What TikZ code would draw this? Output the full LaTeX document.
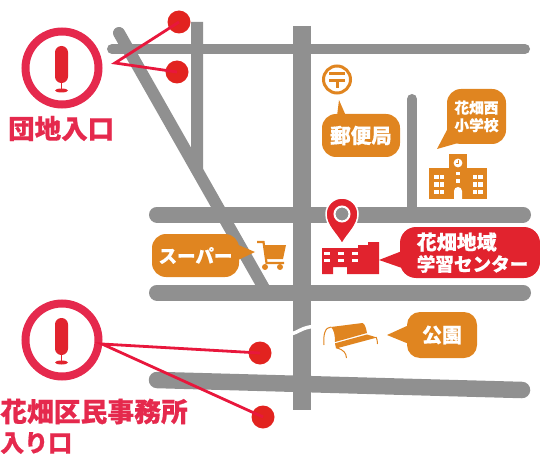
\documentclass[tikz,border=0pt]{standalone}
\usepackage{fontspec}
\newfontfamily\cjk[FakeBold=0.5]{Noto Sans CJK JP Black}
\definecolor{road}{HTML}{909090}
\definecolor{org}{HTML}{E08520}
\definecolor{redb}{HTML}{E1232E}
\definecolor{pink}{HTML}{E5294D}
\definecolor{dotred}{HTML}{E2231F}
\definecolor{linered}{HTML}{E8173C}
\tikzset{
  roadline/.style={draw=road,line width=#1,line cap=round},
  roadbutt/.style={draw=road,line width=#1,line cap=butt},
  bubble/.style={fill=#1,draw=none,rounded corners=14pt,inner sep=0pt,text=white,align=center,font=\cjk},
  tail/.style={fill=#1,draw=none},
  dotn/.style={circle,fill=dotred,draw=none,minimum size=23pt,inner sep=0pt},
  ring/.style={circle,draw=pink,line width=8pt,minimum size=73pt,inner sep=0pt,fill=white},
  lead/.style={draw=linered,line width=2.8pt},
  lab/.style={text=pink,font=\cjk,inner sep=0pt,anchor=west},
  win/.style={fill=white,draw=none}
}
\newcommand{\micmark}[2]{%
  \fill[redb,rounded corners=6.4pt] (#1-6.5,#2-22) rectangle (#1+6.5,#2+15);
  \fill[redb] (#1-0.8,#2+14) rectangle (#1+0.8,#2+22);
  \fill[redb] (#1,#2+22.5) ellipse (6.5pt and 2pt);
}
\newcommand{\wins}[2]{%
  \foreach \yy in {175,182.3,189.5}{
    \fill[win] (#1,\yy) rectangle ++(4.5,4.4);
    \fill[win] (#2,\yy) rectangle ++(4.5,4.4);
  }
}
\begin{document}
\begin{tikzpicture}[x=1pt,y=-1pt]
\useasboundingbox (0,0) rectangle (540,457);
% roads
\draw[roadline=10pt] (112,49) -- (525,49);
\fill[road] (191,22) -- (203,22) -- (203,178) -- (191,158) -- cycle;
\draw[roadline=12pt] (119,33) -- (265,290);
\draw[roadbutt=18pt] (302,26) -- (302,410);
\draw[roadline=10pt] (412,99) -- (412,214);
\draw[roadline=16pt] (157,214.5) -- (523,214.5);
\draw[roadline=16pt] (157,292.5) -- (523,292.5);
\draw[roadline=16.5pt] (157,380) -- (522,390);
\draw[white,line width=3.5pt] (290,334) .. controls (298,333) and (302,327) .. (314,326.5);
% entrance 1
\node[ring] (ent1) at (62,68) {};
\micmark{61.5}{68}
\node[lab,font=\cjk\fontsize{26.5}{28}\selectfont] (ent1lab) at (8,128.5) {団地入口};
\node[dotn] (d1) at (179,22) {};
\node[dotn] (d2) at (177,72) {};
\coordinate (v1) at (115,63);
\draw[lead,line join=miter] (d1.center) -- (v1) -- (d2.center);
% entrance 2
\node[ring] (ent2) at (62,340) {};
\micmark{61.5}{340}
\node[dotn] (d3) at (260,353) {};
\node[dotn] (d4) at (263,417) {};
\coordinate (v2) at (102,344);
\draw[lead] (d3.center) -- (v2) -- (d4.center);
\node[lab,font=\cjk\fontsize{26.8}{29}\selectfont] (ent2lab) at (0,411.5) {花畑区民事務所};
\node[lab,font=\cjk\fontsize{24}{29}\selectfont] (ent2lab2) at (0,443) {入り口};
% post office
\node[circle,draw=org,line width=3pt,minimum size=27pt,inner sep=0pt] (post) at (337,79.5) {};
\fill[org] (329,72.5) rectangle (345,75.5);
\fill[org] (329,79.5) rectangle (345,82.5);
\fill[org] (335.5,79.5) rectangle (338.5,88.5);
\coordinate (t1) at (339,100);
\fill[tail=org] (t1) -- (337,116) -- (346,116) -- cycle;
\node[bubble=org,minimum width=78pt,minimum height=43pt,font=\cjk\fontsize{20.5}{26}\selectfont] (postb) at (361,135.5) {郵便局};
% school
\coordinate (t2) at (437,149);
\fill[tail=org] (t2) -- (448,128) -- (458,143) -- cycle;
\node[bubble=org,minimum width=59pt,minimum height=55pt,font=\cjk\fontsize{14.7}{17.5}\selectfont] (schoolb) at (476.5,116.5) {花畑西\\小学校};
\fill[org] (429,168) rectangle (487,199);
\fill[org] (449,154) rectangle (467,170);
\fill[white] (458,163) circle (4.4pt);
\draw[org,line width=0.8pt] (458,160) -- (458,163.3) -- (455.5,163.3);
\wins{434}{439.5}
\wins{472.7}{478.3}
\fill[win] (456,172) rectangle (460,175.3);
\fill[win] (456,179) rectangle (460,183);
\fill[win] (454,199) -- (454,191) arc[start angle=180,end angle=0,radius=4pt] -- (462,199) -- cycle;
% centre building
\fill[redb] (322,248) -- (358,248) -- (358,245) -- (368,245) -- (368,242) -- (379,242) -- (379,274) -- (347,274) -- (347,267) -- (333,267) -- (333,274) -- (322,274) -- cycle;
\foreach \xx in {324,338,352}{
  \fill[win] (\xx,251.5) rectangle ++(6,3);
  \fill[win] (\xx,259) rectangle ++(6,3);
}
\coordinate (t3) at (379,260);
\fill[tail=redb] (t3) -- (402,251) -- (402,268) -- cycle;
\node[bubble=redb,rounded corners=16pt,minimum width=140pt,minimum height=51pt] (centerb) at (470,252.5) {};
\node[text=white,font=\cjk\fontsize{20}{22}\selectfont,inner sep=0pt,anchor=west] (centert) at (416.5,242) {花畑地域};
\node[text=white,font=\cjk\fontsize{18.6}{22}\selectfont,inner sep=0pt,anchor=west] (centert2) at (416.5,264) {学習センター};
% map pin
\fill[redb,draw=white,line width=1.5pt] (342,244) .. controls (336,233) and (326,226) .. (326,214) arc[start angle=180,end angle=0,radius=16pt] .. controls (358,226) and (348,233) .. (342,244) -- cycle;
\node[circle,fill=road,draw=white,line width=2pt,minimum size=15pt,inner sep=0pt] (pin) at (342,214) {};
% super
\coordinate (t4) at (255,252);
\fill[tail=org] (t4) -- (236,244) -- (236,261) -- cycle;
\node[bubble=org,minimum width=87pt,minimum height=43pt,font=\cjk\fontsize{18.5}{20}\selectfont] (superb) at (195.5,255.5) {スーパー};
% cart
\draw[org,line width=2.2pt] (257,242) -- (263.5,242) -- (266.5,263) -- (284,263);
\fill[org] (263.5,245) -- (286,245) -- (283,259) -- (265.5,259) -- cycle;
\fill[org] (265,267) circle (3pt);
\fill[org] (280,267) circle (3pt);
% park
\fill[org] (331,327) -- (362.5,323) .. controls (365,324) and (366,328) .. (367,333) -- (335,342) .. controls (335,335) and (334,330) .. (331,327) -- cycle;
\fill[org] (335,343.3) -- (367,334.5) -- (377,337.5) -- (336,348.5) -- cycle;
\draw[org,line width=1pt] (324,345) .. controls (323,335) and (325,327) .. (331,327);
\draw[org,line width=1pt] (337,348) .. controls (344,350) and (346,353) .. (346.5,358);
\draw[org,line width=1pt] (376,337) .. controls (377,339) and (377.5,341) .. (377.5,344);
\coordinate (t5) at (387,335);
\fill[tail=org] (t5) -- (409,325) -- (409,344) -- cycle;
\node[bubble=org,rounded corners=13pt,minimum width=70pt,minimum height=46pt,font=\cjk\fontsize{20}{22}\selectfont] (parkb) at (442,335) {公園};
\end{tikzpicture}
\end{document}
